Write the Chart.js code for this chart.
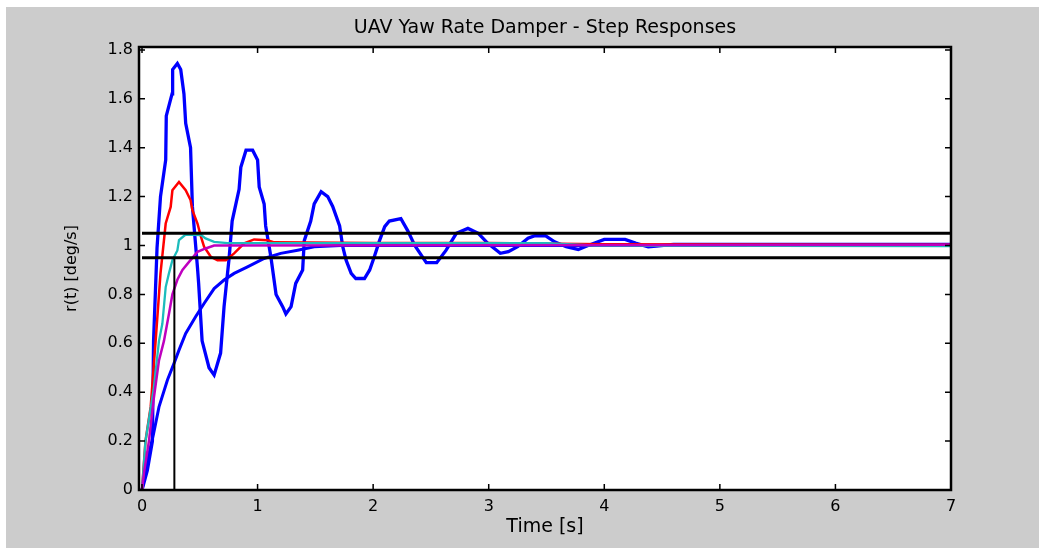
<!DOCTYPE html>
<html>
<head>
<meta charset="utf-8">
<script src="https://cdn.jsdelivr.net/npm/chart.js@4"></script>
<style>
  html, body { margin: 0; padding: 0; background: #ffffff; }
  #wrap { position: absolute; left: 6px; top: 7px; width: 1033px; height: 541px; background: #cccccc; }
</style>
</head>
<body>
<div id="wrap"><canvas id="c"></canvas></div>
<script>
// ---- data ----
const titleText = 'UAV Yaw Rate Damper - Step Responses';
const xTitle = 'Time [s]';
const yTitle = 'r(t) [deg/s]';

const xTickValues = [0, 1, 2, 3, 4, 5, 6, 7];
const xTickLabels = ['0', '1', '2', '3', '4', '5', '6', '7'];
const yTickValues = [0, 0.2, 0.4, 0.6, 0.8, 1, 1.2, 1.4, 1.6, 1.8];
const yTickLabels = ['0', '0.2', '0.4', '0.6', '0.8', '1', '1.2', '1.4', '1.6', '1.8'];

// strongly oscillating response (blue)
const oscT = [0, 0.046, 0.09, 0.10, 0.13, 0.16, 0.205, 0.21, 0.26, 0.265, 0.306, 0.335, 0.363, 0.378, 0.42, 0.436, 0.48, 0.49, 0.52, 0.58, 0.624, 0.68, 0.71, 0.754, 0.78, 0.84, 0.855, 0.90, 0.957, 1.0, 1.014, 1.057, 1.07, 1.115, 1.16, 1.217, 1.245, 1.29, 1.33, 1.39, 1.404, 1.46, 1.49, 1.55, 1.607, 1.65, 1.71, 1.737, 1.766, 1.81, 1.85, 1.925, 1.97, 2.01, 2.055, 2.10, 2.14, 2.24, 2.30, 2.36, 2.46, 2.55, 2.63, 2.72, 2.82, 2.91, 2.99, 3.10, 3.17, 3.25, 3.34, 3.40, 3.49, 3.57, 3.67, 3.775, 3.86, 4.0, 4.18, 4.27, 4.38, 4.45, 4.6, 5.5, 7.0];
const oscR = [0, 0.08, 0.2, 0.61, 0.99, 1.2, 1.35, 1.53, 1.62, 1.72, 1.745, 1.72, 1.62, 1.5, 1.40, 1.16, 0.91, 0.845, 0.61, 0.50, 0.47, 0.56, 0.75, 0.95, 1.10, 1.23, 1.32, 1.39, 1.39, 1.35, 1.24, 1.17, 1.08, 0.954, 0.80, 0.75, 0.72, 0.75, 0.845, 0.90, 1.02, 1.10, 1.17, 1.22, 1.20, 1.16, 1.08, 0.995, 0.94, 0.886, 0.865, 0.865, 0.90, 0.954, 1.02, 1.077, 1.10, 1.11, 1.06, 1.0, 0.93, 0.93, 0.98, 1.05, 1.07, 1.05, 1.01, 0.968, 0.975, 0.995, 1.03, 1.04, 1.04, 1.015, 0.995, 0.984, 1.0, 1.025, 1.025, 1.01, 0.995, 0.998, 1.005, 1.005, 1.005];

// slow, first-order-like response (blue)
const slowT = [0, 0.046, 0.10, 0.147, 0.22, 0.277, 0.32, 0.378, 0.465, 0.537, 0.624, 0.71, 0.797, 0.913, 1.057, 1.20, 1.347, 1.49, 1.72, 7.0];
const slowR = [0, 0.12, 0.23, 0.34, 0.45, 0.518, 0.572, 0.64, 0.71, 0.763, 0.824, 0.859, 0.886, 0.913, 0.947, 0.968, 0.981, 0.995, 1.0, 1.0];

// red response
const redT = [0, 0.03, 0.075, 0.118, 0.16, 0.205, 0.248, 0.263, 0.32, 0.378, 0.42, 0.436, 0.48, 0.51, 0.537, 0.595, 0.653, 0.725, 0.797, 0.884, 0.97, 1.087, 1.144, 2.0, 3.0, 4.0, 7.0];
const redR = [0, 0.2, 0.34, 0.61, 0.886, 1.09, 1.158, 1.226, 1.26, 1.226, 1.186, 1.145, 1.09, 1.036, 0.995, 0.954, 0.94, 0.94, 0.968, 1.009, 1.025, 1.022, 1.013, 1.01, 1.01, 1.005, 1.003];

// cyan response
const cyanT = [0, 0.03, 0.10, 0.147, 0.176, 0.205, 0.233, 0.263, 0.306, 0.32, 0.378, 0.51, 0.55, 0.624, 0.74, 3.5, 3.9, 7.0];
const cyanR = [0, 0.2, 0.41, 0.61, 0.68, 0.83, 0.886, 0.94, 0.98, 1.022, 1.045, 1.043, 1.029, 1.015, 1.01, 1.01, 1.0, 0.998];

// magenta response
const magT = [0, 0.017, 0.06, 0.10, 0.147, 0.19, 0.233, 0.263, 0.306, 0.35, 0.407, 0.48, 0.55, 0.624, 7.0];
const magR = [0, 0.07, 0.2, 0.368, 0.53, 0.61, 0.72, 0.80, 0.86, 0.90, 0.933, 0.974, 0.988, 1.0, 1.003];

// +/-5% settling band and settling-time marker
const bandUpperT = [0, 7];
const bandUpperR = [1.05, 1.05];
const bandLowerT = [0, 7];
const bandLowerR = [0.95, 0.95];
const markerT = [0.28, 0.28];
const markerR = [0, 0.95];

// ---- chart ----
const pts = (t, r) => t.map((v, i) => ({ x: v, y: r[i] }));
const FONT = 'DejaVu Sans';

function ds(label, t, r, color, width, order) {
  return {
    label, data: pts(t, r), borderColor: color, backgroundColor: color,
    borderWidth: width, pointRadius: 0, tension: 0, fill: false, order
  };
}

const framePlugin = {
  id: 'frame',
  beforeDatasetsDraw(chart) {
    const { ctx, chartArea: a } = chart;
    ctx.save();
    ctx.fillStyle = '#ffffff';
    ctx.fillRect(a.left, a.top, a.right - a.left, a.bottom - a.top);
    ctx.restore();
  },
  afterDatasetsDraw(chart) {
    const { ctx, chartArea: a } = chart;
    const xs = chart.scales.x, ys = chart.scales.y;
    const L = 6;
    ctx.save();
    ctx.strokeStyle = '#000000';
    ctx.lineWidth = 1.5;
    ctx.beginPath();
    xs.ticks.forEach(tk => {
      const px = xs.getPixelForValue(tk.value);
      ctx.moveTo(px, a.bottom); ctx.lineTo(px, a.bottom - L);
      ctx.moveTo(px, a.top); ctx.lineTo(px, a.top + L);
    });
    ys.ticks.forEach(tk => {
      const py = ys.getPixelForValue(tk.value);
      ctx.moveTo(a.left, py); ctx.lineTo(a.left + L, py);
      ctx.moveTo(a.right, py); ctx.lineTo(a.right - L, py);
    });
    ctx.stroke();
    ctx.lineWidth = 2.5;
    ctx.strokeRect(a.left, a.top, a.right - a.left, a.bottom - a.top);
    ctx.restore();
  }
};

new Chart(document.getElementById('c'), {
  type: 'line',
  data: {
    datasets: [
      ds('upper band', bandUpperT, bandUpperR, '#000000', 3, 0),
      ds('lower band', bandLowerT, bandLowerR, '#000000', 3, 0),
      ds('settling time', markerT, markerR, '#000000', 2, 0),
      ds('magenta', magT, magR, '#bf00bf', 2.5, 1),
      ds('cyan', cyanT, cyanR, '#1cbcbc', 2.3, 2),
      ds('red', redT, redR, '#ff0000', 2.5, 3),
      ds('slow', slowT, slowR, '#0000ff', 3, 4),
      ds('oscillatory', oscT, oscR, '#0000ff', 3.3, 5)
    ]
  },
  options: {
    responsive: true,
    maintainAspectRatio: false,
    animation: false,
    layout: { padding: { left: 0, right: 88, top: 0, bottom: 0 } },
    plugins: {
      legend: { display: false },
      tooltip: { enabled: false },
      title: {
        display: true,
        text: titleText,
        fullSize: false,
        color: '#000000',
        font: { family: FONT, size: 19, weight: 'normal' },
        padding: { top: 9.4, bottom: 7.8 }
      }
    },
    scales: {
      x: {
        type: 'linear',
        min: -0.026,
        max: 7,
        afterBuildTicks: s => { s.ticks = xTickValues.map(v => ({ value: v })); },
        afterFit: s => { s.height = 58; },
        grid: { display: false, drawTicks: false },
        border: { display: false },
        ticks: {
          color: '#000000',
          padding: 7,
          maxRotation: 0,
          autoSkip: false,
          font: { family: FONT, size: 16 },
          callback: (v, i) => xTickLabels[i]
        },
        title: {
          display: true,
          text: xTitle,
          color: '#000000',
          font: { family: FONT, size: 19 },
          padding: { top: 0, bottom: 9.6 }
        }
      },
      y: {
        type: 'linear',
        min: 0,
        max: 1.812,
        afterBuildTicks: s => { s.ticks = yTickValues.map(v => ({ value: v })); },
        afterFit: s => { s.width = 133; },
        grid: { display: false, drawTicks: false },
        border: { display: false },
        ticks: {
          color: '#000000',
          padding: 6,
          autoSkip: false,
          font: { family: FONT, size: 16 },
          callback: (v, i) => yTickLabels[i]
        },
        title: {
          display: true,
          text: yTitle,
          color: '#000000',
          font: { family: FONT, size: 16 },
          padding: { top: 56.4, bottom: 0 }
        }
      }
    }
  },
  plugins: [framePlugin]
});
</script>
</body>
</html>
